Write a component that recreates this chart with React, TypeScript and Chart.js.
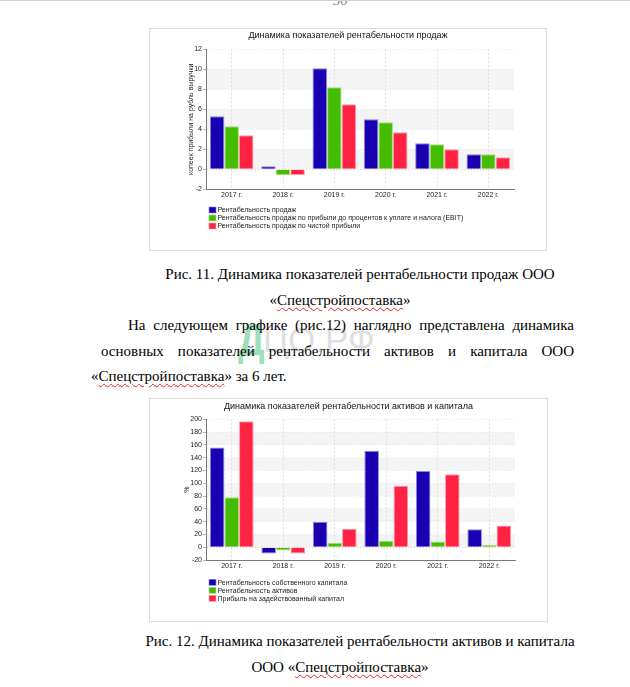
import React, { useEffect, useRef } from 'react';
import { Chart, registerables } from 'chart.js';

Chart.register(...registerables);

// ---------- data ----------
const categories = ['2017 г.', '2018 г.', '2019 г.', '2020 г.', '2021 г.', '2022 г.'];

const salesTitle = 'Динамика показателей рентабельности продаж';
const salesAxisTitle = 'копеек прибыли на рубль выручки';
const salesLabels = [
  'Рентабельность продаж',
  'Рентабельность продаж по прибыли до процентов к уплате и налога (EBIT)',
  'Рентабельность продаж по чистой прибыли',
];
const salesReturn = [5.3, 0.3, 10.1, 5.0, 2.6, 1.5];
const salesEbit = [4.3, -0.6, 8.2, 4.7, 2.5, 1.5];
const salesNet = [3.4, -0.6, 6.5, 3.7, 2.0, 1.2];
const salesAxisMin = -2;
const salesAxisMax = 12;
const salesAxisStep = 2;

const capitalTitle = 'Динамика показателей рентабельности активов и капитала';
const capitalAxisTitle = '%';
const capitalLabels = [
  'Рентабельность собственного капитала',
  'Рентабельность активов',
  'Прибыль на задействованный капитал',
];
const equityReturn = [156, -10, 40, 151, 119, 28];
const assetsReturn = [78, -5, 7, 10, 9, 4];
const capitalEmployed = [197, -10, 29, 96, 114, 34];
const capitalAxisMin = -20;
const capitalAxisMax = 200;
const capitalAxisStep = 20;

// ---------- styles ----------
const FILLS = ['#1800b2', '#44bd00', '#ff2243'];
const BORDERS = ['#8e84dc', '#a6e080', '#ff9aab'];
const SANS = '"Liberation Sans", Arial, sans-serif';
const SERIF = '"Liberation Serif", "Times New Roman", serif';
const INK = '#222';

const bandsPlugin = {
  id: 'bands',
  beforeDraw(chart: any, _args: any, opts: any) {
    const { ctx, chartArea: a, scales } = chart;
    const y = scales.y;
    const step = opts.step;
    ctx.save();
    ctx.fillStyle = '#f4f4f4';
    for (let v = 0; v < y.max; v += 2 * step) {
      const t = y.getPixelForValue(Math.min(v + step, y.max));
      const b = y.getPixelForValue(v);
      ctx.fillRect(a.left, t, a.right - a.left, b - t);
    }
    ctx.restore();
  },
};

const listLegendPlugin = {
  id: 'listLegend',
  afterDraw(chart: any, _args: any, opts: any) {
    const { ctx, chartArea: a } = chart;
    ctx.save();
    ctx.font = `7px ${SANS}`;
    ctx.textBaseline = 'middle';
    ctx.textAlign = 'left';
    chart.data.datasets.forEach((ds: any, i: number) => {
      const y = a.bottom + opts.offset + i * opts.row;
      const x = a.left + 3;
      ctx.fillStyle = ds.backgroundColor;
      ctx.fillRect(x, y - 3, 7, 6);
      ctx.strokeStyle = ds.borderColor;
      ctx.lineWidth = 0.6;
      ctx.strokeRect(x, y - 3, 7, 6);
      ctx.fillStyle = INK;
      ctx.fillText(ds.label, x + 8.5, y + 0.5);
    });
    ctx.restore();
  },
};

function makeConfig(
  title: string,
  axisTitle: string,
  labels: string[],
  series: number[][],
  min: number,
  max: number,
  step: number,
  axisTitlePad: number,
  legendOffset: number,
  titleTop: number,
  titleBottom: number,
  padBottom: number
): any {
  return {
    type: 'bar',
    data: {
      labels: categories,
      datasets: series.map((data, i) => ({
        label: labels[i],
        data,
        backgroundColor: FILLS[i],
        borderColor: BORDERS[i],
        borderWidth: 1,
        categoryPercentage: 0.85,
        barPercentage: 1.0,
        yAxisID: 'y',
      })),
    },
    plugins: [bandsPlugin, listLegendPlugin],
    options: {
      responsive: false,
      animation: false,
      devicePixelRatio: 1,
      layout: { padding: { left: 0, right: 0, top: 0, bottom: padBottom } },
      plugins: {
        legend: { display: false },
        tooltip: { enabled: false },
        title: {
          display: true,
          text: title,
          color: '#111',
          font: { family: SANS, size: 9, weight: 'normal', lineHeight: 1.2 },
          padding: { top: titleTop, bottom: titleBottom },
        },
        bands: { step },
        listLegend: { offset: legendOffset, row: 8 },
      },
      scales: {
        x: {
          afterFit(s: any) {
            s.height = 18;
          },
          grid: { offset: false, color: '#dedede', drawTicks: false },
          border: { color: '#7a7a7a', width: 1, dash: [2, 2] },
          ticks: { color: INK, padding: 2, font: { family: SANS, size: 7 } },
        },
        y: {
          min,
          max,
          afterFit(s: any) {
            s.width = 57;
          },
          ticks: { stepSize: step, color: INK, padding: 1, font: { family: SANS, size: 7 } },
          grid: {
            color: (c: any) => (c.tick && c.tick.value === 0 ? '#f0c2ca' : '#e6e6e6'),
            tickColor: '#e3a3ae',
            tickLength: 3,
          },
          border: { color: '#7a7a7a', width: 1, dash: [1, 2] },
          title: {
            display: true,
            text: axisTitle,
            color: INK,
            font: { family: SANS, size: 7, lineHeight: 1.2 },
            padding: { top: axisTitlePad, bottom: 0 },
          },
        },
        yRight: {
          position: 'right',
          display: true,
          afterFit(s: any) {
            s.width = 33;
          },
          grid: { display: false, drawTicks: false },
          border: { display: false },
          ticks: { display: false },
        },
      },
    },
  };
}

function BarChart(props: { cfg: () => any; left: number; top: number; width: number; height: number }) {
  const ref = useRef<HTMLCanvasElement | null>(null);
  useEffect(() => {
    const chart = new Chart(ref.current as HTMLCanvasElement, props.cfg());
    return () => chart.destroy();
  }, []);
  const { left, top, width, height } = props;
  return (
    <>
      <canvas
        ref={ref}
        width={width}
        height={height}
        style={{ position: 'absolute', left, top, width, height }}
      />
      <div
        style={{
          position: 'absolute',
          left,
          top,
          width,
          height,
          boxSizing: 'border-box',
          border: '1px solid #dcdcdc',
          pointerEvents: 'none',
        }}
      />
    </>
  );
}

const wavy: React.CSSProperties = {
  textDecorationLine: 'underline',
  textDecorationStyle: 'wavy',
  textDecorationColor: '#e02424',
  textDecorationThickness: '1px',
  textUnderlineOffset: '2px',
};

const line = (top: number, left: number, width: number, align: any): React.CSSProperties => ({
  position: 'absolute',
  top,
  left,
  width,
  fontFamily: SERIF,
  fontSize: 15,
  lineHeight: '26px',
  color: '#000',
  whiteSpace: 'nowrap',
  textAlign: align,
  textAlignLast: align,
});

export default function App() {
  return (
    <div
      style={{
        position: 'absolute',
        left: 0,
        top: 0,
        width: 630,
        height: 687,
        background: '#fff',
        overflow: 'hidden',
      }}
    >
      <div style={{ position: 'absolute', left: 0, top: 0, width: 630, height: 1, background: '#d2d2d2', zIndex: 2 }} />
      <div style={{ ...line(-13, 300, 80, 'center'), color: '#888' }}>50</div>

      <BarChart
        cfg={() =>
          makeConfig(
            salesTitle,
            salesAxisTitle,
            salesLabels,
            [salesReturn, salesEbit, salesNet],
            salesAxisMin,
            salesAxisMax,
            salesAxisStep,
            37.5,
            20.7,
            2.6,
            7.9,
            43.7
          )
        }
        left={149}
        top={28}
        width={398}
        height={223}
      />

      <div style={line(260.6, 140, 440, 'center')}>
        Рис. 11. Динамика показателей рентабельности продаж ООО
      </div>
      <div style={line(286.6, 100, 480, 'center')}>
        «<span style={wavy}>Спецстройпоставка</span>»
      </div>

      {/* watermark */}
      <div
        style={{
          position: 'absolute',
          left: 238,
          top: 318,
          fontFamily: '"Liberation Sans", sans-serif',
          fontWeight: 'bold',
          fontSize: 44,
          lineHeight: '44px',
          color: 'rgba(70,195,125,0.55)',
          transform: 'scaleX(0.85)',
          transformOrigin: 'left top',
        }}
      >
        Д
      </div>
      <div
        style={{
          position: 'absolute',
          left: 263,
          top: 322,
          fontFamily: '"Liberation Sans", sans-serif',
          fontSize: 35,
          lineHeight: '35px',
          color: 'rgba(170,170,170,0.4)',
        }}
      >
        ЦО.РФ
      </div>

      <div style={{ ...line(312.4, 128, 446, 'justify'), whiteSpace: 'normal' }}>
        На следующем графике (рис.12) наглядно представлена динамика
      </div>
      <div style={{ ...line(337.9, 101, 473, 'justify'), whiteSpace: 'normal' }}>
        основных показателей рентабельности активов и капитала ООО
      </div>
      <div style={line(363.4, 91, 400, 'left')}>
        «<span style={wavy}>Спецстройпоставка</span>» за 6 лет.
      </div>

      <BarChart
        cfg={() =>
          makeConfig(
            capitalTitle,
            capitalAxisTitle,
            capitalLabels,
            [equityReturn, assetsReturn, capitalEmployed],
            capitalAxisMin,
            capitalAxisMax,
            capitalAxisStep,
            33.5,
            22.3,
            3.3,
            7.2,
            44
          )
        }
        left={149}
        top={398}
        width={399}
        height={224}
      />

      <div style={line(627.9, 140, 440, 'center')}>
        Рис. 12. Динамика показателей рентабельности активов и капитала
      </div>
      <div style={line(653.6, 100, 480, 'center')}>
        ООО «<span style={wavy}>Спецстройпоставка</span>»
      </div>
    </div>
  );
}
